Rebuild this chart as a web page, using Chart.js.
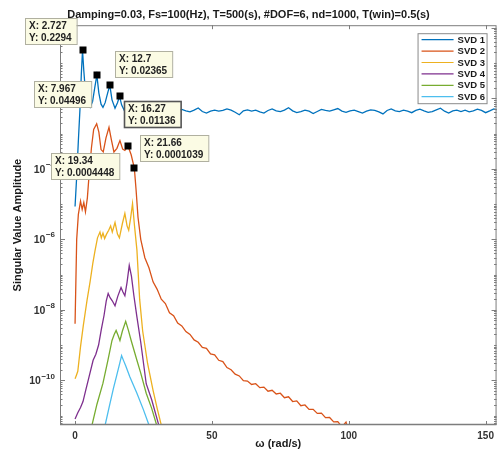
<!DOCTYPE html>
<html>
<head>
<meta charset="utf-8">
<script src="https://cdn.jsdelivr.net/npm/chart.js@4.4.1/dist/chart.umd.min.js"></script>
<style>
  html, body { margin: 0; padding: 0; background: #fff; }
  canvas { display: block; }
</style>
</head>
<body>
<canvas id="grafico" width="499" height="457"></canvas>
<script>
const FONT = "'Liberation Sans', Arial, Helvetica, sans-serif";

// SVD 1
const omega1 = [0, 0.6, 1.2, 1.8, 2.3, 2.727, 3.2, 3.8, 4.6, 5.5, 6.4, 7.2, 7.967, 8.7, 9.5, 10.2, 11.0, 11.9, 12.7, 13.5, 14.6, 15.5, 16.27, 17.0, 18.0,
  19.5, 21, 22.5, 24, 25.5, 27, 28.5, 30, 31.5, 33, 34.5, 36, 37.5, 39, 40.5, 42, 43.5, 45, 46.5, 48,
  49.5, 51, 52.5, 54, 55.5, 57, 58.5, 60, 61.5, 63, 64.5, 66, 67.5, 69, 70.5, 72, 73.5, 75, 76.5, 78,
  79.5, 81, 82.5, 84, 85.5, 87, 88.5, 90, 91.5, 93, 94.5, 96, 97.5, 99, 100.5, 102, 103.5, 105, 106.5, 108,
  109.5, 111, 112.5, 114, 115.5, 117, 118.5, 120, 121.5, 123, 124.5, 126, 127.5, 129, 130.5, 132, 133.5, 135, 136.5, 138,
  139.5, 141, 142.5, 144, 145.5, 147, 148.5, 150, 151.5, 153, 154.5];
const svd1 = [8.5e-6, 6e-5, 6e-4, 5e-3, 0.05, 0.2294, 0.06, 0.015, 0.007, 0.0055, 0.008, 0.02, 0.04496, 0.014, 0.0068, 0.0055, 0.0075, 0.014, 0.02365, 0.009, 0.0052, 0.0075, 0.01136, 0.0065, 0.0045,
  0.0047, 0.0043, 0.0040, 0.0044, 0.0046, 0.0043, 0.0037, 0.0042, 0.0045, 0.0044, 0.0049, 0.0036, 0.0045, 0.0048, 0.0044,
  0.0041, 0.0046, 0.0053, 0.0042, 0.0038, 0.0043, 0.0046, 0.0043, 0.0045, 0.0050, 0.0046, 0.0040, 0.0034, 0.0044, 0.0047,
  0.0043, 0.0046, 0.0041, 0.0038, 0.0045, 0.0050, 0.0044, 0.0042, 0.0046, 0.0054, 0.0044, 0.0039, 0.0042, 0.0046, 0.0043,
  0.0037, 0.0042, 0.0048, 0.0045, 0.0043, 0.0047, 0.0051, 0.0043, 0.0040, 0.0044, 0.0046, 0.0042, 0.0038, 0.0043, 0.0047,
  0.0045, 0.0041, 0.0036, 0.0045, 0.0050, 0.0044, 0.0042, 0.0046, 0.0043, 0.0039, 0.0045, 0.0049, 0.0044, 0.0040, 0.0042,
  0.0047, 0.0052, 0.0043, 0.0038, 0.0044, 0.0046, 0.0042, 0.0046, 0.0041, 0.0044, 0.0049, 0.0045, 0.0039, 0.0044, 0.0050, 0.0046];

// SVD 2
const omega2 = [0, 0.6, 1.2, 2, 2.6, 3.2, 3.8, 4.5, 5.2, 6, 6.8, 7.9, 8.7, 9.5, 10.3, 11.3, 12.4, 13.3, 14.2, 15.3, 16.4, 17.4, 18.2, 19.34, 20.5, 21.66, 22.3, 23,
  24, 25.5, 27, 28.5, 30, 31.5, 33, 34.5, 36, 37.5, 39, 40.5, 42, 43.5, 45, 46.5, 48, 49.5, 51, 52.5, 54, 55.5, 57, 58.5, 60,
  61.5, 63, 64.5, 66, 67.5, 69, 70.5, 72, 73.5, 75, 76.5, 78, 79.5, 81, 82.5, 84, 85.5, 87, 88.5, 90, 91.5, 93, 94.5, 96, 97.5, 99, 100];
const svd2 = [4e-9, 1e-6, 5e-6, 1.2e-5, 7e-6, 1.1e-5, 6e-6, 1.5e-5, 8e-5, 4e-4, 1.3e-3, 1.9e-3, 1.1e-3, 3.5e-4, 3e-4, 7.5e-4, 1.5e-3, 6.5e-4, 3e-4, 3.8e-4, 6.3e-4, 3.6e-4, 3.3e-4, 4.448e-4, 2.5e-4, 1.039e-4, 2.5e-5, 4.2e-6,
  1e-6, 3.0e-7, 1.55e-7, 6.2e-8, 3.8e-8, 2.0e-8, 1.5e-8, 8.2e-9, 6.8e-9, 4.2e-9, 3.5e-9, 2.4e-9, 2.0e-9, 1.4e-9, 1.2e-9, 8.6e-10, 8.1e-10, 5.6e-10, 5.3e-10, 3.7e-10, 3.4e-10, 2.3e-10, 2.0e-10, 1.5e-10, 1.33e-10,
  9.8e-11, 9.5e-11, 7.6e-11, 8.0e-11, 6.2e-11, 6.4e-11, 4.9e-11, 5.2e-11, 4.1e-11, 4.3e-11, 3.2e-11, 3.4e-11, 2.5e-11, 2.6e-11, 1.9e-11, 2.0e-11, 1.5e-11, 1.5e-11, 1.15e-11, 1.17e-11, 8.7e-12, 8.8e-12, 6.6e-12, 6.7e-12, 4.8e-12, 6.5e-12, 3.5e-12];

// SVD 3
const omega3 = [0, 0.5, 1, 2, 3, 4.4, 5.5, 6.5, 7.3, 8.2, 9.1, 9.6, 10.2, 10.8, 11.5, 12.3, 13, 13.6, 14.6, 15.5, 16.2, 17.3, 18.2, 19, 19.6, 20.3, 21, 21.7, 22.6, 23.6, 24.7, 26.5, 28.5, 30, 31.6, 33];
const svd3 = [1.1e-10, 1.4e-10, 1.8e-10, 9e-10, 3.5e-9, 1.9e-8, 6.3e-8, 2.1e-7, 4.8e-7, 1.1e-6, 1.6e-6, 1.1e-6, 1.5e-6, 1.05e-6, 1.4e-6, 1.8e-6, 2.4e-6, 1.6e-6, 3e-6, 1.4e-6, 1.1e-6, 2.8e-6, 5.4e-6, 2.4e-6, 1.8e-6, 4e-6, 1.02e-5, 2.5e-6, 5e-7, 2e-8, 2.5e-9, 3e-10, 5.2e-11, 1.6e-11, 5e-12, 1.5e-12];

// SVD 4
const omega4 = [0, 1, 2, 2.9, 4, 5, 6.6, 7.6, 8.6, 9.6, 10.6, 11.4, 12.1, 12.8, 13.6, 14.6, 15.6, 16.8, 17.5, 18.2, 19, 19.8, 20.6, 21.5, 22.6, 24, 26, 28, 30.7, 32];
const svd4 = [8e-12, 1.2e-11, 1.7e-11, 2.5e-11, 5.6e-11, 1.15e-10, 3.7e-10, 5.5e-10, 1e-9, 2.8e-9, 7e-9, 1.8e-8, 2.9e-8, 2.2e-8, 1.8e-8, 1.3e-8, 2.4e-8, 4.3e-8, 3.2e-8, 2.5e-8, 6e-8, 1.8e-7, 9e-8, 2.5e-8, 6.3e-9, 1.2e-9, 8e-11, 2.8e-11, 5e-12, 1.5e-12];

// SVD 5
const omega5 = [5, 6.2, 8, 10.2, 12, 13.5, 14.3, 15, 15.7, 16.4, 17.3, 18.5, 19.5, 20.5, 22.6, 24, 26, 28, 29.8, 31];
const svd5 = [2e-12, 5.4e-12, 2.1e-11, 8.3e-11, 3.7e-10, 1.35e-9, 2e-9, 2.6e-9, 1.9e-9, 1.35e-9, 2.5e-9, 4.7e-9, 2.6e-9, 1.35e-9, 3.7e-10, 1.6e-10, 4.3e-11, 1.6e-11, 5.4e-12, 2e-12];

// SVD 6
const omega6 = [9, 11, 12.5, 14, 15.2, 16.2, 17, 17.8, 18.5, 20, 22.6, 25, 27, 28.5];
const svd6 = [1.5e-12, 5.4e-12, 1.8e-11, 5.8e-11, 1.35e-10, 2.8e-10, 5e-10, 3.5e-10, 2.6e-10, 1.26e-10, 4.3e-11, 1.45e-11, 5.4e-12, 2e-12];

const seriesLabels = ['SVD 1', 'SVD 2', 'SVD 3', 'SVD 4', 'SVD 5', 'SVD 6'];

// Data tips (omega, amplitude)
const tipX = [2.727, 7.967, 12.7, 16.27, 19.34, 21.66];
const tipY = [0.2294, 0.04496, 0.02365, 0.01136, 0.0004448, 0.0001039];

const titulo = 'Damping=0.03, Fs=100(Hz), T=500(s), #DOF=6, nd=1000, T(win)=0.5(s)';

const colores = ['#0072BD', '#D95319', '#EDB120', '#7E2F8E', '#77AC30', '#4DBEEE'];
const omegas = [omega1, omega2, omega3, omega4, omega5, omega6];
const valores = [svd1, svd2, svd3, svd4, svd5, svd6];

const datasets = seriesLabels.map((label, i) => ({
  label,
  data: omegas[i].map((w, k) => ({ x: w, y: valores[i][k] })),
  borderColor: colores[i],
  backgroundColor: colores[i],
  borderWidth: 1.3,
  pointRadius: 0,
  tension: 0,
  order: seriesLabels.length - i
}));

// Caja de ejes, etiquetas log, leyenda y datatips
const decorPlugin = {
  id: 'decor',
  afterDraw(chart) {
    const { ctx, chartArea: a, scales } = chart;
    const xs = scales.x, ys = scales.y;
    ctx.save();

    // etiquetas 10^n
    ctx.fillStyle = '#333';
    ctx.textBaseline = 'middle';
    ctx.textAlign = 'right';
    ys.ticks.forEach(t => {
      const lg = Math.log10(t.value);
      const e = Math.round(lg);
      if (Math.abs(lg - e) > 1e-6 || e % 2 !== 0) return;
      const py = ys.getPixelForValue(t.value);
      const ex = e === 0 ? '0' : '\u2212' + Math.abs(e);
      ctx.font = 'bold 8px ' + FONT;
      const ew = ctx.measureText(ex).width;
      ctx.fillText(ex, a.left - 5, py - 4);
      ctx.font = 'bold 10.5px ' + FONT;
      ctx.fillText('10', a.left - 5 - ew - 0.5, py + 1);
    });

    // marco
    ctx.strokeStyle = '#7d7d7d';
    ctx.lineWidth = 1;
    ctx.strokeRect(a.left + 0.5, a.top + 0.5, a.right - a.left - 1, a.bottom - a.top - 1);
    ctx.lineWidth = 1.6;
    ctx.beginPath();
    ctx.moveTo(a.left, a.bottom - 0.5); ctx.lineTo(a.right, a.bottom - 0.5);
    ctx.stroke();

    // marcas x
    ctx.lineWidth = 1;
    ctx.beginPath();
    xs.ticks.forEach(t => {
      const px = Math.round(xs.getPixelForValue(t.value)) + 0.5;
      ctx.moveTo(px, a.bottom); ctx.lineTo(px, a.bottom - 4);
      ctx.moveTo(px, a.top); ctx.lineTo(px, a.top + 4);
    });
    ctx.stroke();

    // marcas y (log)
    ctx.beginPath();
    for (let e = -12; e <= 0; e++) {
      for (let k = 1; k <= 9; k++) {
        const v = k * Math.pow(10, e);
        if (v < ys.min || v > ys.max) continue;
        const py = Math.round(ys.getPixelForValue(v)) + 0.5;
        const len = (k === 1 && e % 2 === 0) ? 5 : 2.5;
        ctx.moveTo(a.left, py); ctx.lineTo(a.left + len, py);
        ctx.moveTo(a.right, py); ctx.lineTo(a.right - len, py);
      }
    }
    ctx.stroke();

    // leyenda
    const lw = 69, lh = 70;
    const lx = a.right - 10 - lw, ly = a.top + 8;
    ctx.fillStyle = '#fff';
    ctx.fillRect(lx, ly, lw, lh);
    ctx.strokeStyle = '#8a8a8a';
    ctx.lineWidth = 1;
    ctx.strokeRect(lx + 0.5, ly + 0.5, lw, lh);
    ctx.font = 'bold 9.5px ' + FONT;
    ctx.textBaseline = 'middle';
    ctx.textAlign = 'left';
    chart.data.datasets.forEach((ds, i) => {
      const yy = ly + 6.5 + i * 11.4;
      ctx.strokeStyle = ds.borderColor;
      ctx.lineWidth = 1.2;
      ctx.beginPath();
      ctx.moveTo(lx + 4, yy); ctx.lineTo(lx + 36, yy);
      ctx.stroke();
      ctx.fillStyle = '#1a1a1a';
      ctx.fillText(ds.label, lx + 40, yy + 0.5);
    });

    // datatips
    const offsets = [[-58, -32], [-63, 6], [5, -34], [4, 5], [-77, 7], [6, -33]];
    ctx.font = 'bold 10px ' + FONT;
    tipX.forEach((tx, i) => {
      const px = xs.getPixelForValue(tx);
      const py = ys.getPixelForValue(tipY[i]);
      const l1 = 'X: ' + tx, l2 = 'Y: ' + tipY[i];
      const w = Math.max(ctx.measureText(l1).width, ctx.measureText(l2).width) + 9;
      const bx = Math.round(px + offsets[i][0]), by = Math.round(py + offsets[i][1]);
      ctx.fillStyle = '#fbfbe4';
      ctx.fillRect(bx, by, w, 26);
      ctx.strokeStyle = i === 3 ? '#555' : '#b0b0a0';
      ctx.lineWidth = i === 3 ? 1.6 : 1;
      ctx.strokeRect(bx + 0.5, by + 0.5, w, 26);
      ctx.fillStyle = '#222';
      ctx.fillText(l1, bx + 4, by + 8);
      ctx.fillText(l2, bx + 4, by + 20);
      ctx.fillStyle = '#000';
      ctx.fillRect(Math.round(px) - 3.5, Math.round(py) - 3.5, 7, 7);
    });

    ctx.restore();
  }
};

new Chart(document.getElementById('grafico').getContext('2d'), {
  type: 'line',
  data: { datasets },
  options: {
    responsive: false,
    devicePixelRatio: 1,
    animation: false,
    layout: { padding: { left: 0, right: 2, top: 0, bottom: 0 } },
    plugins: {
      legend: { display: false },
      tooltip: { enabled: false },
      title: {
        display: true,
        text: titulo,
        color: '#1a1a1a',
        font: { family: FONT, size: 11, weight: 'bold' },
        padding: { top: 8, bottom: 4 }
      }
    },
    scales: {
      x: {
        type: 'linear',
        min: -5.5,
        max: 154,
        grid: { display: false, drawTicks: false },
        border: { display: false },
        ticks: {
          stepSize: 50,
          includeBounds: false,
          padding: 5,
          color: '#333',
          font: { family: FONT, size: 10, weight: 'bold' }
        },
        title: {
          display: true,
          text: '\u03C9 (rad/s)',
          color: '#1a1a1a',
          font: { family: FONT, size: 11, weight: 'bold' },
          padding: { top: 0, bottom: 6 }
        },
        afterFit(scale) { scale.height = 32; }
      },
      y: {
        type: 'logarithmic',
        min: 5.4e-12,
        max: 1.18,
        grid: { display: false, drawTicks: false },
        border: { display: false },
        ticks: {
          autoSkip: false,
          padding: 5,
          callback: () => ''
        },
        title: {
          display: true,
          text: 'Singular Value Amplitude',
          color: '#1a1a1a',
          font: { family: FONT, size: 11, weight: 'bold' },
          padding: { top: 11, bottom: 0 }
        },
        afterFit(scale) { scale.width = 60; }
      }
    }
  },
  plugins: [decorPlugin]
});
</script>
</body>
</html>
